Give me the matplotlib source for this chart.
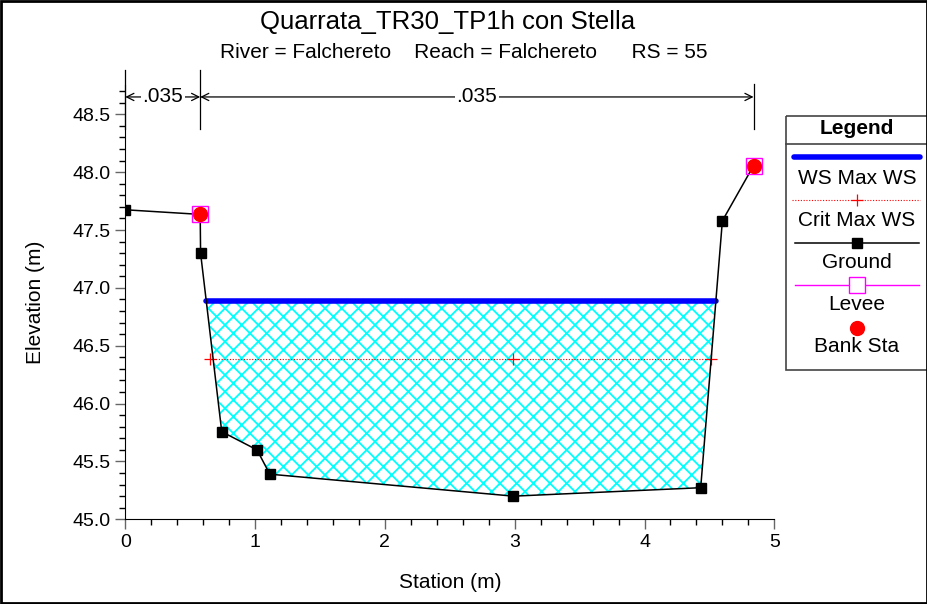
import numpy as np
import matplotlib.pyplot as plt
from matplotlib.patches import Rectangle, Polygon
from matplotlib.ticker import MultipleLocator

plt.rcParams['font.family'] = ['Liberation Sans', 'DejaVu Sans']
plt.rcParams['hatch.linewidth'] = 1.3

# ground profile
sta = [0.0, 0.577, 0.58, 0.743, 1.015, 1.113, 2.99, 4.433, 4.60, 4.84]
elev = [47.675, 47.635, 47.30, 45.757, 45.60, 45.39, 45.20, 45.273, 47.58, 48.056]

ws_elev = 46.89
crit_elev = 46.383
crit_sta = [0.655, 2.99, 4.51]

bank_sta = [0.577, 4.84]
bank_elev = [47.635, 48.056]

n_bounds = [0.0, 0.577, 4.84]
n_values = ['.035', '.035']

fig = plt.figure(figsize=(9.28, 6.04), dpi=100)
ax = fig.add_axes([125.3 / 928, 84.7 / 604, 649.0 / 928, 3.75 * 115.71 / 604])
ax.set_xlim(0, 5)
ax.set_ylim(45.0, 48.75)

# water surface extent: intersect ws with ground
def crossing(level, i):
    x0, y0, x1, y1 = sta[i], elev[i], sta[i + 1], elev[i + 1]
    t = (level - y0) / (y1 - y0)
    return x0 + t * (x1 - x0)

xl = crossing(ws_elev, 2)
xr = crossing(ws_elev, 7)
poly = [(xl, ws_elev)] + [(sta[i], elev[i]) for i in range(3, 8)] + [(xr, ws_elev)]
ax.add_patch(Polygon(poly, closed=True, facecolor='white', edgecolor='#00ffff',
                     hatch='xx', lw=0, zorder=1))

ax.plot([xl, xr], [ws_elev, ws_elev], color='#0000ff', lw=4, solid_capstyle='round', zorder=4)
ax.plot([crit_sta[0], crit_sta[-1]], [crit_elev, crit_elev], color='#dd0000', lw=0.8,
        ls=(0, (1, 1.5)), zorder=3)
ax.plot(crit_sta, [crit_elev] * len(crit_sta), ls='none', marker='+', color='red',
        ms=8, mew=0.9, zorder=3)

ax.plot(sta, elev, color='black', lw=1.1, zorder=5)
gmask = [i for i in range(len(sta)) if sta[i] not in bank_sta]
ax.plot([sta[i] for i in gmask], [elev[i] for i in gmask], ls='none', marker='s',
        color='black', ms=6.8, zorder=6)
ax.plot(bank_sta, bank_elev, ls='none', marker='s', mfc='none', mec='#ff00ff',
        ms=11, mew=1.0, zorder=6)
ax.plot(bank_sta, bank_elev, ls='none', marker='o', color='red', ms=10, zorder=7)

# manning's n annotation
y_arr = 48.65
ax.plot([n_bounds[0]] * 2, [48.37, 48.88], color='black', lw=0.9, clip_on=False)
ax.plot([n_bounds[1]] * 2, [48.37, 48.88], color='black', lw=0.9, clip_on=False)
ax.plot([n_bounds[2]] * 2, [48.37, 48.76], color='black', lw=0.9, clip_on=False)
for k, lab in enumerate(n_values):
    a, b = n_bounds[k], n_bounds[k + 1]
    mid = (a + b) / 2
    ax.text(mid, y_arr, lab, ha='center', va='center', fontsize=15, zorder=8,
            bbox=dict(facecolor='white', edgecolor='none', pad=1))
    ax.annotate('', xy=(a, y_arr), xytext=(mid, y_arr), zorder=7,
                arrowprops=dict(arrowstyle='->', lw=0.9, shrinkA=0, shrinkB=0,
                                mutation_scale=13))
    ax.annotate('', xy=(b, y_arr), xytext=(mid, y_arr), zorder=7,
                arrowprops=dict(arrowstyle='->', lw=0.9, shrinkA=0, shrinkB=0,
                                mutation_scale=13))

for s in ['top', 'right']:
    ax.spines[s].set_visible(False)
ax.xaxis.set_major_locator(MultipleLocator(1))
ax.xaxis.set_minor_locator(MultipleLocator(0.2))
ax.yaxis.set_minor_locator(MultipleLocator(0.1))
ax.set_yticks([45.0 + 0.5 * i for i in range(8)])
ax.set_yticklabels(['%.1f' % (45.0 + 0.5 * i) for i in range(8)])
ax.tick_params(which='major', length=7, labelsize=14, color='#666666', width=1)
ax.tick_params(which='minor', length=4, width=1)
ax.set_xlabel('Station (m)', fontsize=15, labelpad=16)
ax.set_ylabel('Elevation (m)', fontsize=15, labelpad=20)

fig.text(448 / 928, 1 - 22 / 604, 'Quarrata_TR30_TP1h con Stella', ha='center',
         va='center', fontsize=18.5)
fig.text(464 / 928, 1 - 53 / 604,
         'River = Falchereto    Reach = Falchereto      RS = 55',
         ha='center', va='center', fontsize=15)

# legend panel
lg = fig.add_axes([785 / 928, (604 - 370) / 604, 143 / 928, 255 / 604])
lg.set_xlim(785, 928)
lg.set_ylim(370, 115)
lg.axis('off')
lg.add_patch(Rectangle((785.5, 115.5), 160, 254, fill=False, ec='#444444', lw=1.2, clip_on=False))
lg.plot([785.5, 928], [144, 144], color='#444444', lw=1.2)
cx = 857
lg.text(cx, 129, 'Legend', ha='center', va='center', fontsize=15, fontweight='bold')
lg.plot([794, 920], [157, 157], color='#0000ff', lw=4, solid_capstyle='round')
lg.text(cx, 178, 'WS Max WS', ha='center', va='center', fontsize=15)
lg.plot([792, 920], [200, 200], color='red', lw=0.8, ls=(0, (1, 1.5)))
lg.plot([cx], [200], marker='+', color='red', ms=8, mew=0.9)
lg.text(cx, 220, 'Crit Max WS', ha='center', va='center', fontsize=15)
lg.plot([795, 919], [243, 243], color='black', lw=1.1)
lg.plot([cx], [243], marker='s', color='black', ms=6.8)
lg.text(cx, 262, 'Ground', ha='center', va='center', fontsize=15)
lg.plot([795, 919], [285, 285], color='#ff00ff', lw=1.0)
lg.plot([cx], [285], marker='s', mfc='white', mec='#ff00ff', ms=11, mew=1.0)
lg.text(cx, 305, 'Levee', ha='center', va='center', fontsize=15)
lg.plot([cx], [328], marker='o', color='red', ms=10)
lg.text(cx, 347, 'Bank Sta', ha='center', va='center', fontsize=15)

fig.patches.append(Rectangle((0.001, 0.0015), 0.998, 0.997, transform=fig.transFigure,
                             fill=False, ec='black', lw=2))

fig.savefig('out.png', dpi=100)
